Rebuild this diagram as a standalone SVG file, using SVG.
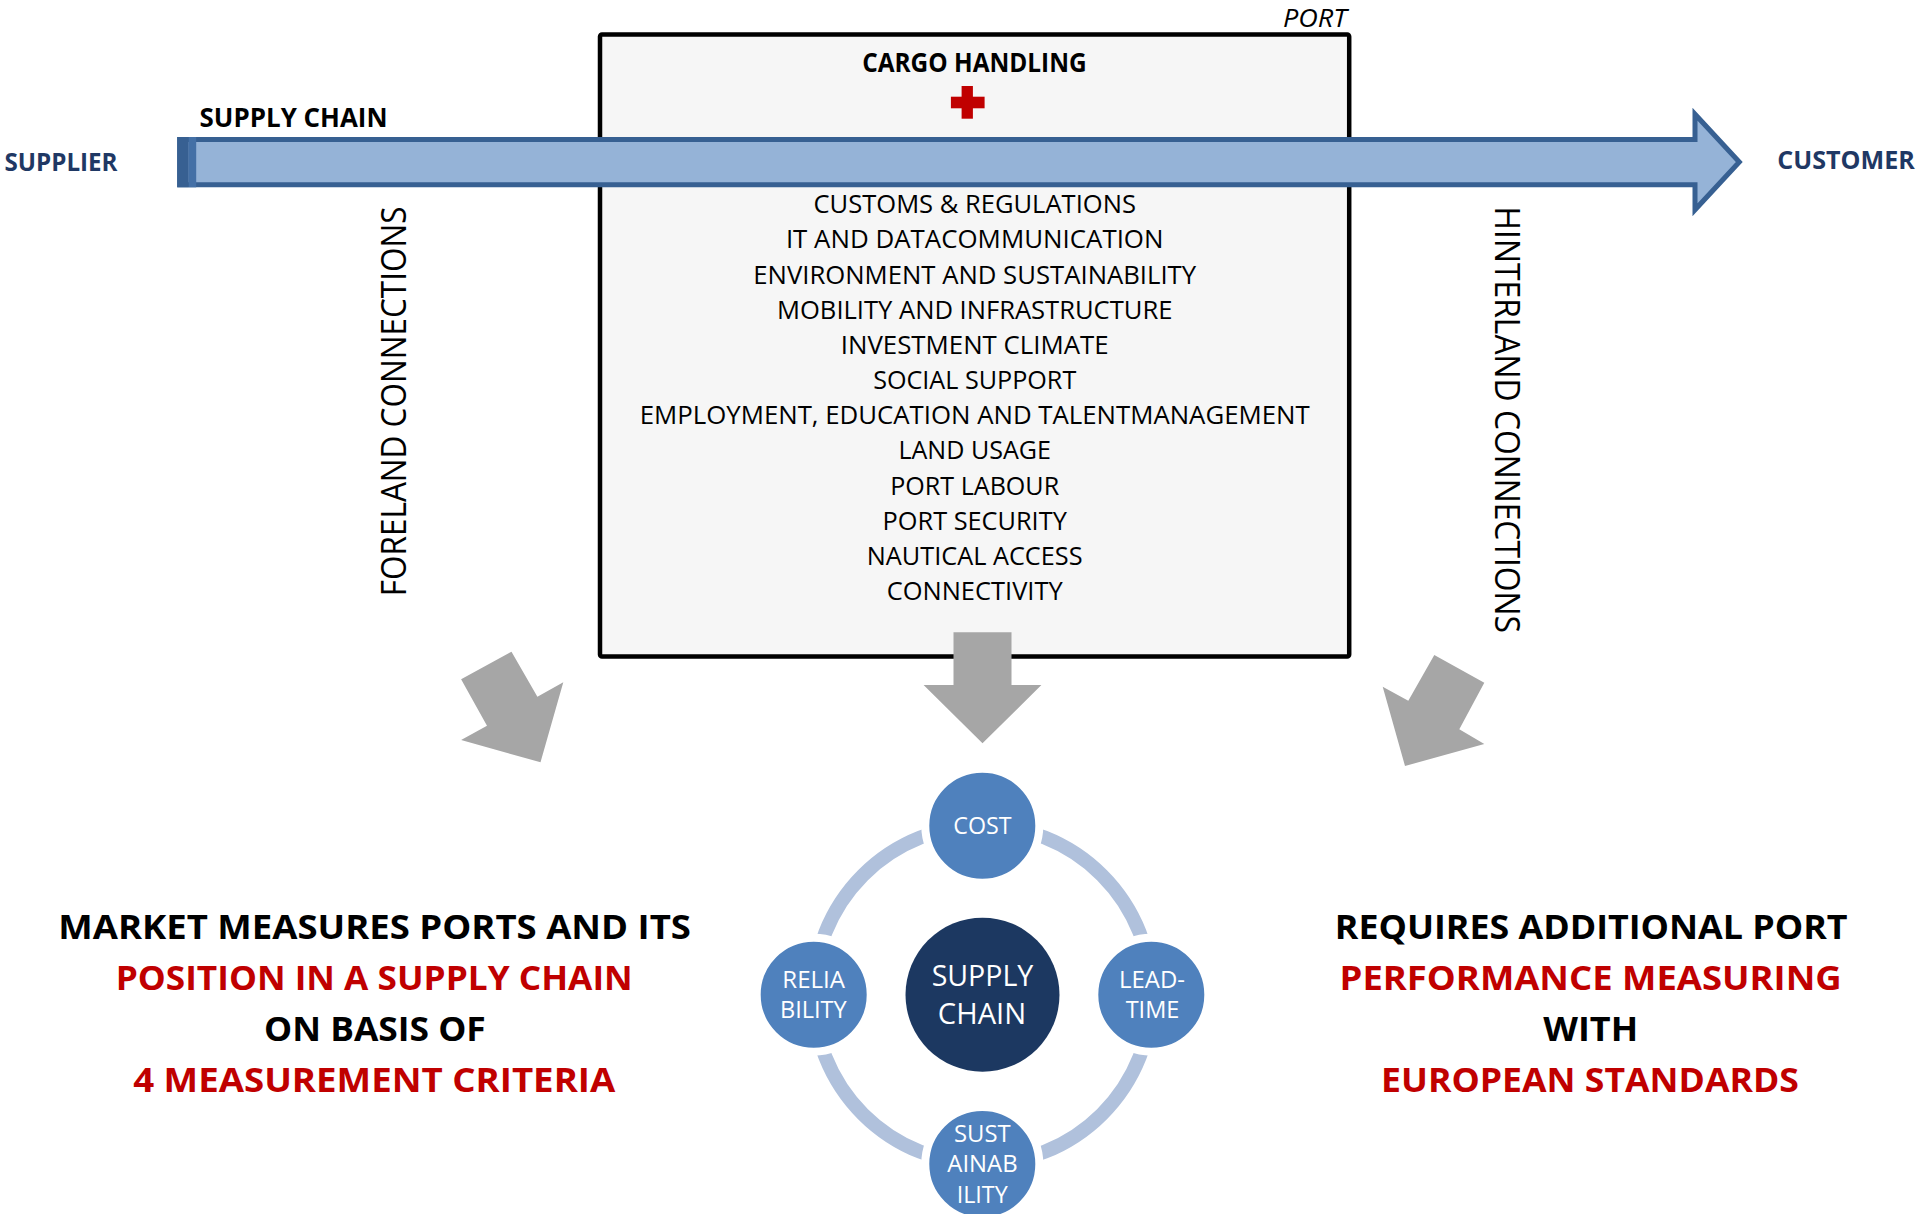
<svg xmlns="http://www.w3.org/2000/svg" width="1920" height="1214" viewBox="0 0 1920 1214">
<style>
text{font-family:"Open Sans","Liberation Sans",Arial,sans-serif}
.b{font-weight:bold}
.lbl{font-size:25px;font-weight:bold;fill:#1F3864}
.item{font-size:25.6px;fill:#000;text-anchor:middle}
.vert{font-size:34px;fill:#000;text-anchor:middle}
.big{font-size:34px;font-weight:bold;text-anchor:middle}
.blk{fill:#000}
.red{fill:#C00000}
.sm{font-size:24px;fill:#fff;text-anchor:middle}
.ctr{font-size:29.5px;fill:#fff;text-anchor:middle}
.gray{fill:#A6A6A6}
.node-c{fill:#4F81BD;stroke:#fff;stroke-width:8}
</style>
<rect width="1920" height="1214" fill="#fff"/>

<g id="port">
  <rect x="600" y="34.5" width="749.2" height="622" rx="2" fill="#F6F6F6" stroke="#000" stroke-width="4.5"/>
  <text x="1346.8" y="27" font-size="25" font-style="italic" text-anchor="end" textLength="63.8" lengthAdjust="spacingAndGlyphs">PORT</text>
  <text x="974.4" y="72" font-size="26.5" class="b" text-anchor="middle" textLength="224.5" lengthAdjust="spacingAndGlyphs">CARGO HANDLING</text>
  <g fill="#C00000">
    <rect x="961.6" y="86" width="11.3" height="32.7"/>
    <rect x="950.9" y="96.7" width="33.7" height="11.6"/>
  </g>
  <text class="item" x="974.7" y="213" textLength="322.4" lengthAdjust="spacingAndGlyphs">CUSTOMS &amp; REGULATIONS</text>
  <text class="item" x="974.7" y="248.3" textLength="377.6" lengthAdjust="spacingAndGlyphs">IT AND DATACOMMUNICATION</text>
  <text class="item" x="974.7" y="283.8" textLength="442.9" lengthAdjust="spacingAndGlyphs">ENVIRONMENT AND SUSTAINABILITY</text>
  <text class="item" x="974.7" y="318.8" textLength="395.4" lengthAdjust="spacingAndGlyphs">MOBILITY AND INFRASTRUCTURE</text>
  <text class="item" x="974.7" y="354" textLength="267.9" lengthAdjust="spacingAndGlyphs">INVESTMENT CLIMATE</text>
  <text class="item" x="974.7" y="389.3" textLength="203.1" lengthAdjust="spacingAndGlyphs">SOCIAL SUPPORT</text>
  <text class="item" x="974.7" y="424.3" textLength="669.9" lengthAdjust="spacingAndGlyphs">EMPLOYMENT, EDUCATION AND TALENTMANAGEMENT</text>
  <text class="item" x="974.7" y="459.3" textLength="152.6" lengthAdjust="spacingAndGlyphs">LAND USAGE</text>
  <text class="item" x="974.7" y="494.5" textLength="168.9" lengthAdjust="spacingAndGlyphs">PORT LABOUR</text>
  <text class="item" x="974.7" y="529.8" textLength="184.2" lengthAdjust="spacingAndGlyphs">PORT SECURITY</text>
  <text class="item" x="974.7" y="565" textLength="215.8" lengthAdjust="spacingAndGlyphs">NAUTICAL ACCESS</text>
  <text class="item" x="974.7" y="600.2" textLength="176" lengthAdjust="spacingAndGlyphs">CONNECTIVITY</text>
</g>

<g id="supply-chain-arrow">
  <path d="M179.7,139.5 H1695 V114.2 L1739.3,162 L1695,209.8 V184.8 H179.7 Z" fill="#95B3D7" stroke="#376092" stroke-width="5" stroke-linejoin="miter"/>
  <rect x="177.2" y="137" width="11.5" height="50.3" fill="#376092"/>
  <rect x="188.7" y="137" width="7.5" height="50.3" fill="#4470A6"/>
  <text x="199.6" y="126.7" font-size="27" class="b" textLength="187.9" lengthAdjust="spacingAndGlyphs">SUPPLY CHAIN</text>
</g>

<g id="supplier">
  <text class="lbl" x="4.5" y="170.7" textLength="113" lengthAdjust="spacingAndGlyphs">SUPPLIER</text>
</g>
<g id="customer">
  <text class="lbl" x="1777.3" y="169.3" textLength="137.6" lengthAdjust="spacingAndGlyphs">CUSTOMER</text>
</g>

<g id="foreland">
  <text class="vert" transform="translate(406,401.4) rotate(-90)" textLength="389.8" lengthAdjust="spacingAndGlyphs">FORELAND CONNECTIONS</text>
</g>
<g id="hinterland">
  <text class="vert" transform="translate(1494.5,419.8) rotate(90)" textLength="426.5" lengthAdjust="spacingAndGlyphs">HINTERLAND CONNECTIONS</text>
</g>

<g id="connectors">
  <polygon class="gray" points="511.5,651.7 537.4,696.7 563.3,682.3 540.5,762.3 461.1,740 487,725.7 461.1,679.3"/>
  <polygon class="gray" points="953.5,632.3 1011.5,632.3 1011.5,685 1041.4,685 982.5,743.3 923.6,685 953.5,685"/>
  <polygon class="gray" points="1434.3,655 1484.3,682.7 1459.3,729.3 1484.3,744 1405,766 1382.7,686.7 1408.3,700.7"/>
  <circle cx="982.5" cy="994.7" r="169" fill="none" stroke="#B0C1DC" stroke-width="14"/>
</g>

<g id="supply-chain-center">
  <circle cx="982.5" cy="994.7" r="77" fill="#1C3861"/>
  <text class="ctr" x="982.5" y="986" textLength="101.7" lengthAdjust="spacingAndGlyphs">SUPPLY</text>
  <text class="ctr" x="982" y="1024.3" textLength="88.3" lengthAdjust="spacingAndGlyphs">CHAIN</text>
</g>
<g id="cost">
  <circle class="node-c" cx="982.3" cy="825.7" r="57"/>
  <text class="sm" x="982.5" y="834" textLength="58.3" lengthAdjust="spacingAndGlyphs">COST</text>
</g>
<g id="reliability">
  <circle class="node-c" cx="813.7" cy="994.7" r="57"/>
  <text class="sm" x="813.7" y="988.3" textLength="62.7" lengthAdjust="spacingAndGlyphs">RELIA</text>
  <text class="sm" x="813.3" y="1018.3" textLength="66.7" lengthAdjust="spacingAndGlyphs">BILITY</text>
</g>
<g id="lead-time">
  <circle class="node-c" cx="1151.3" cy="994.7" r="57"/>
  <text class="sm" x="1152" y="988.3" textLength="66" lengthAdjust="spacingAndGlyphs">LEAD-</text>
  <text class="sm" x="1152.5" y="1018.3" textLength="53.7" lengthAdjust="spacingAndGlyphs">TIME</text>
</g>
<g id="sustainability">
  <circle class="node-c" cx="982.3" cy="1164" r="57"/>
  <text class="sm" x="982.3" y="1141.7" textLength="56.7" lengthAdjust="spacingAndGlyphs">SUST</text>
  <text class="sm" x="982.5" y="1172.3" textLength="70.3" lengthAdjust="spacingAndGlyphs">AINAB</text>
  <text class="sm" x="982.2" y="1203.3" textLength="51" lengthAdjust="spacingAndGlyphs">ILITY</text>
</g>

<g id="market-text">
  <text class="big blk" x="374.6" y="939.3" textLength="632.7" lengthAdjust="spacingAndGlyphs">MARKET MEASURES PORTS AND ITS</text>
  <text class="big red" x="374.2" y="990" textLength="517" lengthAdjust="spacingAndGlyphs">POSITION IN A SUPPLY CHAIN</text>
  <text class="big blk" x="374.9" y="1040.7" textLength="221.8" lengthAdjust="spacingAndGlyphs">ON BASIS OF</text>
  <text class="big red" x="374.2" y="1091.7" textLength="482.1" lengthAdjust="spacingAndGlyphs">4 MEASUREMENT CRITERIA</text>
</g>
<g id="requires-text">
  <text class="big blk" x="1591.2" y="939.3" textLength="512.8" lengthAdjust="spacingAndGlyphs">REQUIRES ADDITIONAL PORT</text>
  <text class="big red" x="1590.6" y="990" textLength="502.2" lengthAdjust="spacingAndGlyphs">PERFORMANCE MEASURING</text>
  <text class="big blk" x="1590.7" y="1040.7" textLength="94.9" lengthAdjust="spacingAndGlyphs">WITH</text>
  <text class="big red" x="1590" y="1091.7" textLength="417.9" lengthAdjust="spacingAndGlyphs">EUROPEAN STANDARDS</text>
</g>
</svg>
